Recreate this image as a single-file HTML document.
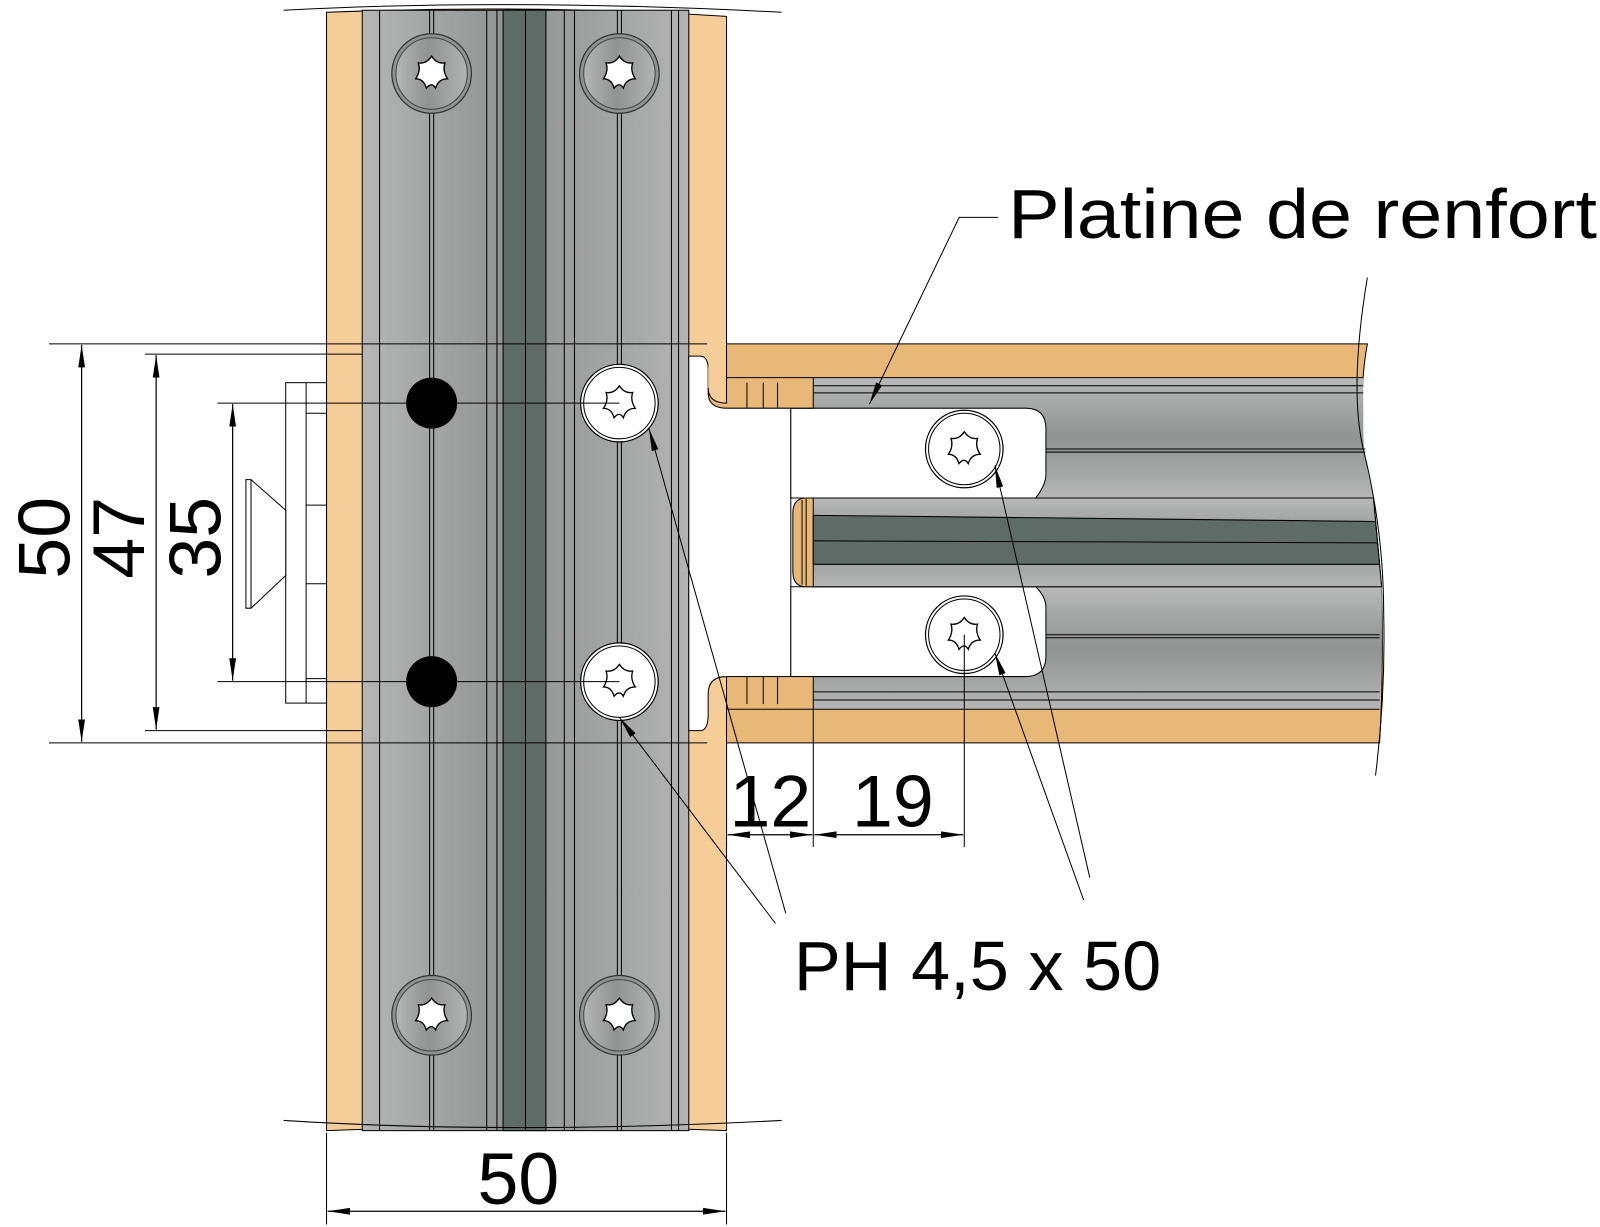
<!DOCTYPE html>
<html><head><meta charset="utf-8"><style>
html,body{margin:0;padding:0;background:#fff}
svg{display:block}
text{font-family:"Liberation Sans",sans-serif;fill:#000}
</style></head><body>
<svg width="1600" height="1227" viewBox="0 0 1568 1202.4" xmlns="http://www.w3.org/2000/svg">
<defs>
<linearGradient id="gv" x1="0" x2="1" y1="0" y2="0">
<stop offset="0" stop-color="#b5b6b5"/><stop offset="0.45" stop-color="#8f9392"/><stop offset="1" stop-color="#b2b3b2"/>
</linearGradient>
<linearGradient id="gh" x1="0" x2="0" y1="0" y2="1">
<stop offset="0" stop-color="#b8b9b8"/><stop offset="0.5" stop-color="#8f9392"/><stop offset="1" stop-color="#b5b6b5"/>
</linearGradient>
<marker id="ar2" viewBox="0 0 20 10" refX="20" refY="5" markerWidth="22" markerHeight="11" markerUnits="userSpaceOnUse" orient="auto-start-reverse">
<path d="M0,2 L20,5 L0,8z" fill="#000"/></marker>
<g id="torx" fill="none" stroke="#000" stroke-width="1">
<path d="M0,-13 Q4,-7 10,-8 Q8,-2 12,4 Q5,4 3,11 Q0,6 -4,11 Q-6,4 -12,4 Q-8,-2 -10,-8 Q-4,-7 0,-13z" fill="#fff" transform="scale(1.3)"/>
</g>
<g id="gscrew">
<circle r="39" fill="#8f9392" stroke="#333" stroke-width="1.2"/>
<circle r="35" fill="url(#gv)" stroke="#444" stroke-width="1"/>
<use href="#torx"/>
</g>
<g id="wscrew">
<circle r="38" fill="#fff" stroke="#000" stroke-width="1.2"/>
<circle r="35" fill="#fff" stroke="#000" stroke-width="1"/>
<use href="#torx"/>
</g>
</defs>

<!-- vertical member -->
<path d="M320,12 Q520,4 712,16 L712,1108 Q520,1100 320,1108 Z" fill="#f5cd98" stroke="#000" stroke-width="1"/>
<rect x="355" y="10" width="320" height="1098" fill="url(#gv)" stroke="#000" stroke-width="1"/>
<rect x="493" y="10" width="42" height="1098" fill="#5f6b66" stroke="#000" stroke-width="1"/>
<g stroke="#000" stroke-width="1">
<line x1="515" y1="10" x2="515" y2="1108"/>
<line x1="372" y1="10" x2="372" y2="1108"/>
<line x1="477" y1="10" x2="477" y2="1108"/>
<line x1="487" y1="10" x2="487" y2="1108"/>
<line x1="553" y1="10" x2="553" y2="1108"/>
<line x1="563" y1="10" x2="563" y2="1108"/>
<line x1="658" y1="10" x2="658" y2="1108"/>
<line x1="665" y1="10" x2="665" y2="1108"/>
<line x1="421" y1="10" x2="421" y2="1108"/>
<line x1="425" y1="10" x2="425" y2="1108"/>
<line x1="605" y1="10" x2="605" y2="1108"/>
<line x1="609" y1="10" x2="609" y2="1108"/>
</g>
<path d="M278,10 Q500,-2 766,12" fill="none" stroke="#000" stroke-width="1"/>
<path d="M278,1098 Q500,1112 766,1098" fill="none" stroke="#000" stroke-width="1"/>

<use href="#gscrew" x="423" y="72"/><use href="#gscrew" x="607" y="72"/>
<use href="#gscrew" x="423" y="995"/><use href="#gscrew" x="607" y="995"/>

<!-- notch white area at right edge of vertical -->
<path d="M675,349 L686,349 Q694,349 694,362 L694,380 Q694,395 712,395 L712,663 Q694,663 694,680 L694,700 Q694,716 686,716 L675,716 Z" fill="#fff" stroke="#000" stroke-width="1"/>
<path d="M694,362 Q694,349 705,349 L712,349 L712,395 Q694,395 694,380Z" fill="#f5cd98"/>

<circle cx="423" cy="395" r="25" fill="#000"/><circle cx="423" cy="668" r="25" fill="#000"/>
<use href="#wscrew" x="607" y="395"/><use href="#wscrew" x="607" y="668"/>

<!-- horizontal member -->
<path d="M712,337 L1340,337 Q1332,380 1336,440 Q1350,520 1354,580 Q1356,660 1352,728 L712,728 Z" fill="#e8b878" stroke="#000" stroke-width="1"/>
<rect x="711" y="400" width="314" height="263" fill="#fff"/>
<line x1="775" y1="400" x2="775" y2="663" stroke="#000"/>
<path d="M797,370 L1336,370 L1336,440 Q1342,470 1346,488 L797,488Z" fill="url(#gh)"/>
<path d="M797,575 L1354,575 Q1355,620 1352,695 L797,695Z" fill="url(#gh)"/>
<path d="M1005,400 Q1025,400 1025,420 L1025,465 Q1025,475 1015,488 L775,488 L775,400Z" fill="#fff" stroke="#000"/>
<path d="M1015,575 Q1025,585 1025,595 L1025,643 Q1025,663 1005,663 L775,663 L775,575Z" fill="#fff" stroke="#000"/>
<path d="M712,370 L797,370 L797,400 L712,400 Q694,400 694,385 L694,380 Q694,395 712,395Z" fill="#e8b878" stroke="#000"/>
<rect x="712" y="663" width="85" height="32" fill="#e8b878" stroke="#000"/>
<g stroke="#000" stroke-width="1" fill="none">
<line x1="732" y1="375" x2="732" y2="400"/><line x1="748" y1="375" x2="748" y2="400"/><line x1="762" y1="375" x2="762" y2="400"/>
<line x1="732" y1="663" x2="732" y2="690"/><line x1="748" y1="663" x2="748" y2="690"/><line x1="762" y1="663" x2="762" y2="690"/>
<line x1="797" y1="370" x2="1336" y2="370"/><line x1="797" y1="378" x2="1336" y2="378"/><line x1="797" y1="385" x2="1336" y2="385"/>
<line x1="1025" y1="440" x2="1338" y2="440"/><line x1="1025" y1="443" x2="1338" y2="443"/>
<line x1="1025" y1="622" x2="1352" y2="622"/><line x1="1025" y1="625" x2="1352" y2="625"/>
<line x1="797" y1="678" x2="1352" y2="678"/><line x1="797" y1="686" x2="1352" y2="686"/><line x1="797" y1="695" x2="1352" y2="695"/>
</g>
<!-- tenon -->
<path d="M790,488 L1346,488 Q1350,530 1354,575 L790,575 Q777,575 777,560 L777,503 Q777,488 790,488Z" fill="#e8b878" stroke="#000"/>
<path d="M797,488 L1346,488 Q1350,530 1354,575 L797,575Z" fill="url(#gh)" stroke="#000"/>
<path d="M797,505 L1348,511 L1352,553 L797,553Z" fill="#5f6b66" stroke="#000"/>
<line x1="797" y1="530" x2="1350" y2="532" stroke="#000"/>
<g stroke="#000"><line x1="786" y1="490" x2="786" y2="573"/><line x1="790" y1="489" x2="790" y2="574"/></g>
<path d="M1340,272 Q1322,380 1336,440 Q1356,520 1356,600 Q1358,680 1348,760" fill="none" stroke="#000" stroke-width="1"/>

<use href="#wscrew" x="945" y="440"/>
<use href="#wscrew" x="945" y="622"/>
<line x1="945" y1="622" x2="945" y2="830" stroke="#000"/>

<!-- left bracket -->
<rect x="280" y="375" width="40" height="314" fill="#fff" stroke="#000"/>
<line x1="300" y1="375" x2="300" y2="689" stroke="#000"/>
<g stroke="#000"><line x1="300" y1="405" x2="320" y2="405"/><line x1="300" y1="495" x2="320" y2="495"/><line x1="300" y1="572" x2="320" y2="572"/><line x1="300" y1="665" x2="320" y2="665"/></g>
<path d="M241,470 L246,470 L280,500 L280,564 L246,596 L241,596Z" fill="#fff" stroke="#000"/>
<line x1="246" y1="470" x2="246" y2="596" stroke="#000"/>

<!-- dimension extension lines -->
<g stroke="#000" stroke-width="1">
<line x1="48" y1="337" x2="693" y2="337"/>
<line x1="48" y1="728" x2="693" y2="728"/>
<line x1="142" y1="347" x2="355" y2="347"/>
<line x1="142" y1="716" x2="355" y2="716"/>
<line x1="213" y1="395" x2="607" y2="395"/>
<line x1="213" y1="668" x2="607" y2="668"/>
<line x1="320" y1="1110" x2="320" y2="1200"/>
<line x1="712" y1="1110" x2="712" y2="1200"/>
<line x1="712" y1="728" x2="712" y2="830"/>
<line x1="797" y1="695" x2="797" y2="830"/>
</g>
<g stroke="#000" stroke-width="1.2" marker-start="url(#ar2)" marker-end="url(#ar2)">
<line x1="80" y1="338" x2="80" y2="727"/>
<line x1="153" y1="348" x2="153" y2="715"/>
<line x1="228" y1="396" x2="228" y2="667"/>
<line x1="321" y1="1187" x2="711" y2="1187"/>
<line x1="713" y1="818" x2="796" y2="818"/>
<line x1="798" y1="818" x2="944" y2="818"/>
</g>

<g font-size="72">
<text transform="translate(68,527) rotate(-90)" text-anchor="middle">50</text>
<text transform="translate(141,527) rotate(-90)" text-anchor="middle">47</text>
<text transform="translate(216,527) rotate(-90)" text-anchor="middle">35</text>
<text x="508" y="1180" text-anchor="middle">50</text>
<text x="755" y="810" text-anchor="middle">12</text>
<text x="875" y="810" text-anchor="middle">19</text>
</g>
<text x="988" y="233" font-size="68" textLength="577" lengthAdjust="spacingAndGlyphs">Platine de renfort</text>
<text x="778" y="970" font-size="68" textLength="360" lengthAdjust="spacingAndGlyphs">PH 4,5 x 50</text>

<!-- leaders -->
<g stroke="#000" stroke-width="1" fill="none" marker-end="url(#ar2)">
<polyline points="978,213 940,213 852,396"/>
<line x1="770" y1="895" x2="636" y2="420"/>
<line x1="760" y1="905" x2="607" y2="703"/>
<line x1="1068" y1="860" x2="975" y2="456"/>
<line x1="1062" y1="882" x2="975" y2="640"/>
</g>
</svg>
</body></html>
